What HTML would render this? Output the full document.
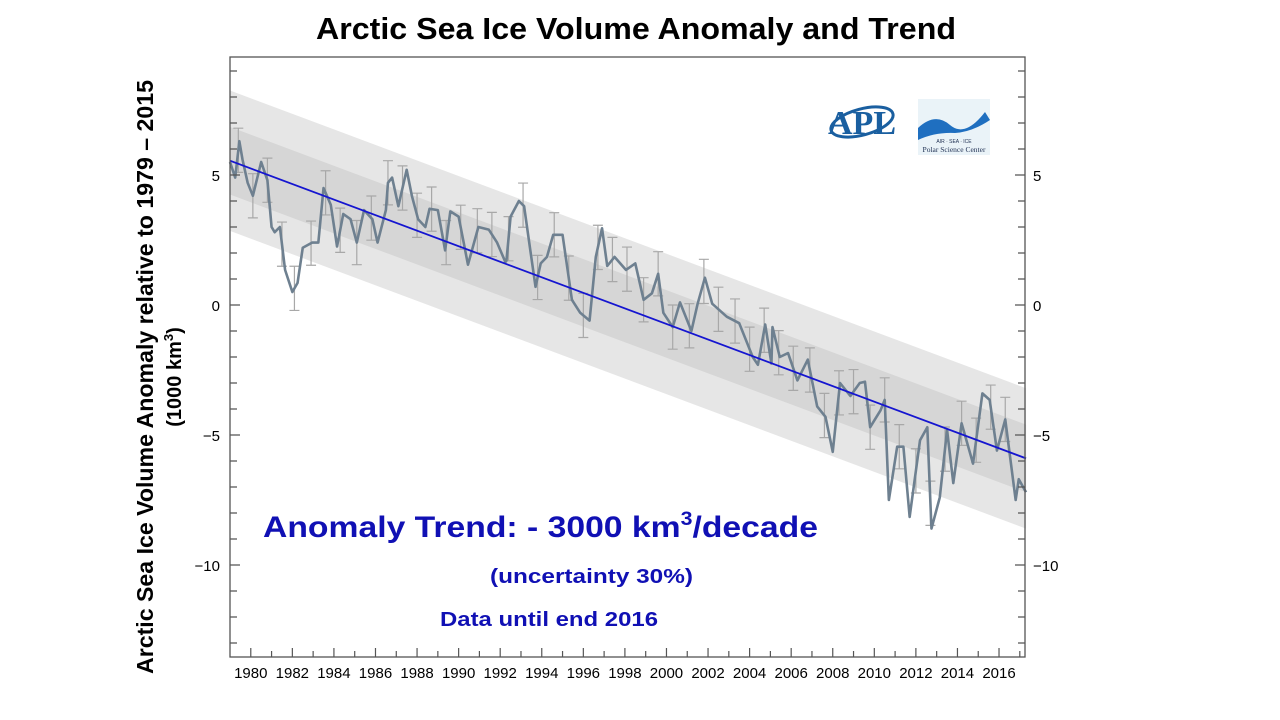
<!DOCTYPE html>
<html><head><meta charset="utf-8"><style>
body{margin:0;background:#fff;width:1280px;height:720px;overflow:hidden;font-family:"Liberation Sans",sans-serif}
svg{position:absolute;left:0;top:0}
</style></head><body>
<svg id="chart" width="1280" height="720" viewBox="0 0 1280 720" xmlns="http://www.w3.org/2000/svg">
<text x="316" y="39" textLength="640" lengthAdjust="spacingAndGlyphs" font-size="31" font-weight="bold" fill="#000">Arctic Sea Ice Volume Anomaly and Trend</text>
<g transform="translate(153,377) rotate(-90)">
<text x="-297" y="0" textLength="594" lengthAdjust="spacingAndGlyphs" font-size="23" font-weight="bold">Arctic Sea Ice Volume Anomaly relative to 1979 – 2015</text>
<text x="0" y="28" text-anchor="middle" font-size="20" font-weight="bold">(1000 km<tspan font-size="13" dy="-8">3</tspan><tspan dy="8">)</tspan></text>
</g>
<g id="plot"></g>
<g>
<ellipse cx="862" cy="122" rx="32" ry="13" fill="none" stroke="#1a5fa0" stroke-width="3" transform="rotate(-15 862 122)"/>
<text x="862" y="134" text-anchor="middle" font-size="34" font-weight="bold" font-family="Liberation Serif,serif" fill="#1a5fa0">APL</text>
</g>
<g>
<rect x="918" y="99" width="72" height="56" fill="#eaf3f8"/>
<path d="M918 128 Q935 112 950 125 T985 112 L990 120 Q972 132 955 133 Q935 132 918 140Z" fill="#1f6fc0"/>
<text x="954" y="143" text-anchor="middle" font-size="5" fill="#235">AIR · SEA · ICE</text>
<text x="954" y="152" text-anchor="middle" font-size="7.5" font-family="Liberation Serif,serif" fill="#235">Polar Science Center</text>
</g>
<text x="263" y="537" font-size="30" font-weight="bold" fill="#1010b4" textLength="555" lengthAdjust="spacingAndGlyphs">Anomaly Trend:  - 3000 km<tspan font-size="19" dy="-12">3</tspan><tspan dy="12">/decade</tspan></text>
<text x="490" y="583" font-size="20" font-weight="bold" fill="#1010b4" textLength="203" lengthAdjust="spacingAndGlyphs">(uncertainty  30%)</text>
<text x="440" y="626" font-size="20" font-weight="bold" fill="#1010b4" textLength="218" lengthAdjust="spacingAndGlyphs">Data until end 2016</text>
</svg>
<script>
const years=[1979.0,1979.25,1979.45,1979.6,1979.85,1980.1,1980.5,1980.8,1981.0,1981.15,1981.4,1981.65,1982.0,1982.25,1982.5,1982.95,1983.25,1983.5,1983.85,1984.15,1984.45,1984.8,1985.1,1985.45,1985.85,1986.1,1986.5,1986.6,1986.8,1987.1,1987.5,1987.75,1988.05,1988.4,1988.6,1989.0,1989.35,1989.6,1990.0,1990.45,1990.95,1991.45,1991.85,1992.25,1992.3,1992.5,1992.9,1993.15,1993.45,1993.7,1993.95,1994.25,1994.55,1995.0,1995.45,1995.85,1996.3,1996.6,1996.9,1997.15,1997.5,1998.05,1998.5,1998.9,1999.3,1999.6,1999.85,2000.3,2000.65,2001.2,2001.5,2001.85,2002.2,2002.9,2003.5,2004.15,2004.4,2004.75,2005.05,2005.1,2005.45,2005.85,2006.3,2006.8,2007.25,2007.65,2008.0,2008.35,2008.85,2009.3,2009.55,2009.8,2010.3,2010.5,2010.7,2011.1,2011.4,2011.7,2012.2,2012.55,2012.75,2013.15,2013.5,2013.8,2014.2,2014.75,2015.2,2015.55,2015.9,2016.3,2016.8,2016.95,2017.3];
const anomaly=[5.5,4.9,6.3,5.6,4.7,4.2,5.5,4.8,3.0,2.8,3.0,1.35,0.5,0.85,2.2,2.4,2.4,4.5,3.85,2.25,3.5,3.3,2.4,3.65,3.3,2.4,3.65,4.7,4.9,3.8,5.2,4.2,3.3,3.0,3.7,3.65,2.1,3.6,3.4,1.55,3.0,2.9,2.4,1.65,1.7,3.4,4.0,3.8,2.1,0.7,1.6,1.85,2.7,2.7,0.2,-0.3,-0.6,1.85,2.95,1.5,1.85,1.35,1.6,0.2,0.45,1.2,-0.3,-0.85,0.1,-1.0,0.05,1.05,0.05,-0.45,-0.7,-2.0,-2.3,-0.75,-2.25,-0.85,-2.0,-1.85,-2.9,-2.1,-3.9,-4.3,-5.65,-3.0,-3.5,-3.0,-2.95,-4.7,-4.05,-3.65,-7.5,-5.45,-5.45,-8.15,-5.2,-4.7,-8.6,-7.4,-4.8,-6.85,-4.55,-6.1,-3.4,-3.65,-5.6,-4.4,-7.5,-6.7,-7.2];
const trendStart=[1979.0,5.55];
const trendEnd=[2017.3,-5.9];
const outerBand=[2.7];
const innerBand=[1.3];
const errYears=[1979.4,1980.1,1980.8,1981.5,1982.1,1982.9,1983.6,1984.3,1985.1,1985.8,1986.6,1987.3,1988.0,1988.7,1989.4,1990.1,1990.9,1991.6,1992.4,1993.1,1993.8,1994.6,1995.3,1996.0,1996.7,1997.4,1998.1,1998.9,1999.6,2000.3,2001.1,2001.8,2002.5,2003.3,2004.0,2004.7,2005.4,2006.1,2006.9,2007.6,2008.3,2009.0,2009.8,2010.5,2011.2,2012.0,2012.7,2013.4,2014.2,2014.9,2015.6,2016.3];
const errHalf=[0.85];
const yMajor=[5,0,-5,-10];
const xLabels=[1980,1982,1984,1986,1988,1990,1992,1994,1996,1998,2000,2002,2004,2006,2008,2010,2012,2014,2016];

const L=230,R=1025,T=57,B=657;
const X=y=>L+(y-1979.0)*(R-L)/(2017.25-1979.0);
const Y=v=>305-v*26;
const NS="http://www.w3.org/2000/svg";
const g=document.getElementById('plot');
function mk(t,a){const e=document.createElementNS(NS,t);for(const k in a)e.setAttribute(k,a[k]);g.appendChild(e);return e;}
function trendAt(yr){return trendStart[1]+(trendEnd[1]-trendStart[1])*(yr-trendStart[0])/(trendEnd[0]-trendStart[0]);}
function interp(yr){for(let i=1;i<years.length;i++){if(yr<=years[i]){const f=(yr-years[i-1])/(years[i]-years[i-1]);return anomaly[i-1]+f*(anomaly[i]-anomaly[i-1]);}}return anomaly[anomaly.length-1];}
function band(w,fill,name){const x0=trendStart[0],x1=trendEnd[0];
const p=mk('polygon',{points:`${X(x0)},${Y(trendAt(x0)+w)} ${X(x1)},${Y(trendAt(x1)+w)} ${X(x1)},${Y(trendAt(x1)-w)} ${X(x0)},${Y(trendAt(x0)-w)}`,fill:fill});

}
band(outerBand[0],'#e6e6e6','outer-uncertainty-band');
band(innerBand[0],'#d6d6d6','inner-uncertainty-band');
errYears.forEach(yr=>{const c=interp(yr),x=X(yr);
const e=mk('path',{d:`M${x},${Y(c+errHalf[0])}V${Y(c-errHalf[0])}M${x-5},${Y(c+errHalf[0])}h10M${x-5},${Y(c-errHalf[0])}h10`,stroke:'#a8a8a8','stroke-width':1.2,fill:'none'});

});
const ln=mk('polyline',{points:years.map((y,i)=>X(y)+','+Y(anomaly[i])).join(' '),fill:'none',stroke:'#6e8090','stroke-width':2.6,'stroke-linejoin':'round'});


const tl=mk('line',{x1:X(trendStart[0]),y1:Y(trendStart[1]),x2:X(trendEnd[0]),y2:Y(trendEnd[1]),stroke:'#1515d0','stroke-width':1.8});


const fr=mk('rect',{x:L,y:T,width:R-L,height:B-T,fill:'none',stroke:'#555','stroke-width':1.3});


for(let v=-13;v<=9;v++){const maj=yMajor.includes(v),len=maj?10:7;
const t=mk('path',{d:`M${L},${Y(v)}h${len}M${R},${Y(v)}h${-len}`,stroke:'#555','stroke-width':1.2});

}
yMajor.forEach(v=>{const s=v<0?'−'+(-v):''+v;
const a=mk('text',{x:L-10,y:Y(v)+6,'text-anchor':'end','font-size':15});a.textContent=s;


const b=mk('text',{x:R+8,y:Y(v)+6,'font-size':15});b.textContent=s;

});
for(let yr=1980;yr<=2017;yr++){const len=(yr%2==0)?9:6;
const t=mk('path',{d:`M${X(yr)},${B}v${-len}`,stroke:'#555','stroke-width':1.2});

}
xLabels.forEach(yr=>{const a=mk('text',{x:X(yr),y:B+21,'text-anchor':'middle','font-size':15});a.textContent=yr;

});
</script>
</body></html>
